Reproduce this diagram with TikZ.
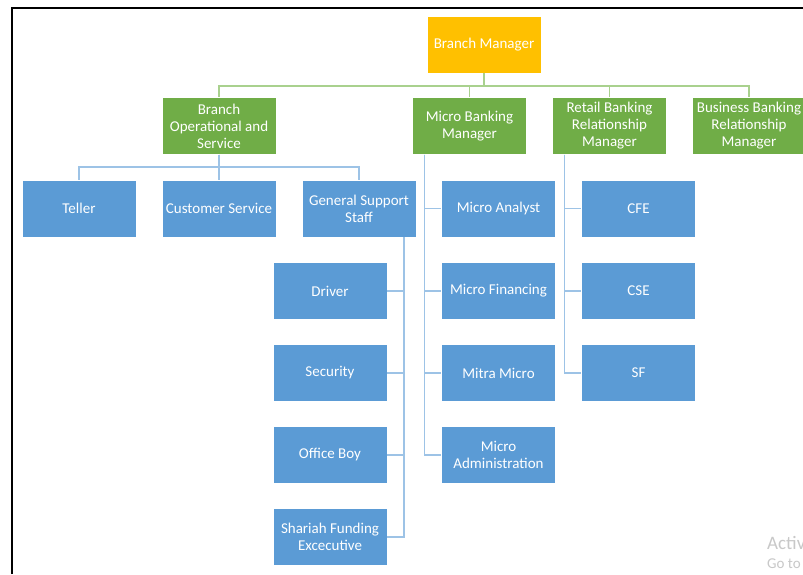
\documentclass[tikz,border=0pt]{standalone}
\usepackage{fontspec}
\setmainfont{Carlito}
\definecolor{bmgold}{HTML}{FFC000}
\definecolor{mgrgreen}{HTML}{70AD47}
\definecolor{staffblue}{HTML}{5B9BD5}
\definecolor{glinec}{HTML}{A9D18E}
\definecolor{blinec}{HTML}{9DC3E6}
\definecolor{wmgray}{HTML}{C8C8C8}
\tikzset{
  box/.style={minimum width=114pt, minimum height=57pt, inner sep=2pt, align=center,
    text=white, font=\fontsize{15}{17}\selectfont, draw=white, line width=0.4pt},
  topbox/.style={box, fill=bmgold},
  mgrbox/.style={box, fill=mgrgreen},
  staffbox/.style={box, fill=staffblue},
  gline/.style={draw=glinec, line width=1.6pt},
  bline/.style={draw=blinec, line width=1.6pt},
}
\begin{document}
\begin{tikzpicture}[x=1pt,y=-1pt]
\useasboundingbox (0,0) rectangle (803,574);
\fill[white] (0,0) rectangle (803,574);
% frame
\draw[black, line width=2pt] (12,574) -- (12,8) -- (803,8);

% top
\node[topbox] (bm) at (484,44.5) {Branch Manager};
% managers
\node[mgrbox] (bos) at (219,126) {Branch\\Operational and\\Service};
\node[mgrbox] (mbm) at (469.5,126) {Micro Banking\\Manager};
\node[mgrbox] (rbm) at (609.5,126) {Retail Banking\\Relationship\\Manager};
\node[mgrbox] (bbm) at (749,126) {Business Banking\\Relationship\\Manager};
% row 1 staff
\node[staffbox] (teller) at (79,208.5) {Teller};
\node[staffbox] (cs) at (219,208.5) {Customer Service};
\node[staffbox] (gss) at (359,208.5) {General Support\\Staff};
\node[staffbox] (ma) at (498.5,208.5) {Micro Analyst};
\node[staffbox] (cfe) at (638.5,208.5) {CFE};
% general support column
\node[staffbox] (drv) at (330,291) {Driver};
\node[staffbox] (sec) at (330,373) {Security};
\node[staffbox] (ob) at (330,455) {Office Boy};
\node[staffbox] (sfe) at (330,537) {Shariah Funding\\Excecutive};
% micro column
\node[staffbox] (mf) at (498.5,291) {Micro Financing};
\node[staffbox] (mm) at (498.5,373) {Mitra Micro};
\node[staffbox] (mad) at (498.5,455) {Micro\\Administration};
% retail column
\node[staffbox] (cse) at (638.5,291) {CSE};
\node[staffbox] (sf) at (638.5,373) {SF};

% connectors
\foreach \c in {bos,mbm,rbm,bbm}
  \draw[gline] (bm.south) -- ++(0,12.5) -| (\c.north);
\foreach \c in {teller,cs,gss}
  \draw[bline] (bos.south) -- ++(0,12.5) -| (\c.north);
\foreach \c in {drv,sec,ob,sfe}
  \draw[bline] ([xshift=-12pt]gss.south east) |- (\c.east);
\foreach \c in {ma,mf,mm,mad}
  \draw[bline] ([xshift=12pt]mbm.south west) |- (\c.west);
\foreach \c in {cfe,cse,sf}
  \draw[bline] ([xshift=12pt]rbm.south west) |- (\c.west);

% watermark
\node[anchor=west, text=wmgray, font=\fontsize{19}{19}\selectfont, inner sep=0pt] (wm1) at (767,543) {Activ};
\node[anchor=west, text=wmgray, font=\fontsize{15}{15}\selectfont, inner sep=0pt] (wm2) at (767,564) {Go to};
\end{tikzpicture}
\end{document}
